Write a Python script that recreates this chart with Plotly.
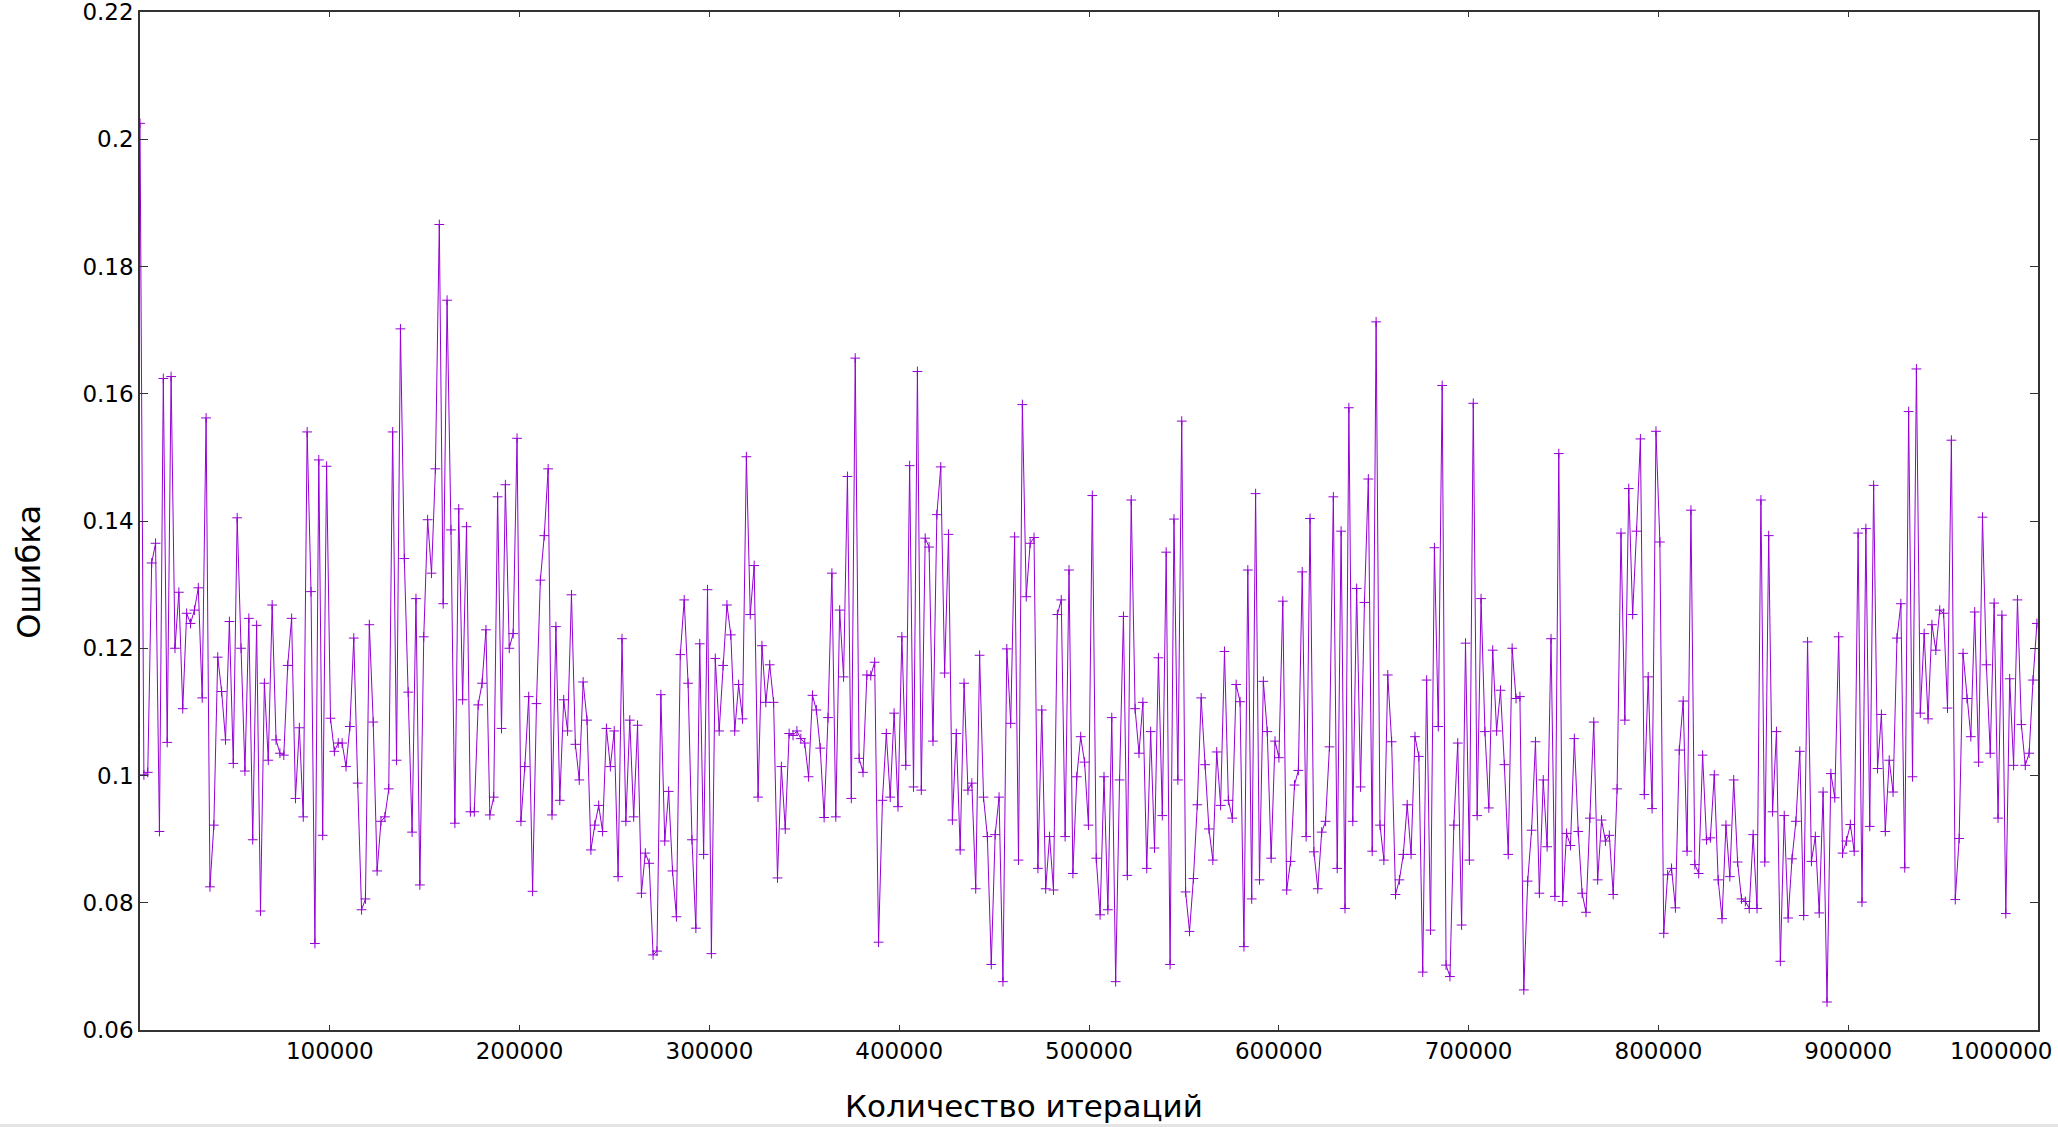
import plotly.graph_objects as go

ITER_STEP = 2048

errors = [
    0.2025, 0.1001, 0.1005, 0.1334, 0.1365, 0.0912, 0.1624, 0.1052, 0.1627, 0.1200,
    0.1288, 0.1105, 0.1255, 0.1239, 0.1260, 0.1295, 0.1122, 0.1562, 0.0825, 0.0922,
    0.1186, 0.1132, 0.1056, 0.1242, 0.1019, 0.1405, 0.1200, 0.1007, 0.1247, 0.0899,
    0.1236, 0.0787, 0.1145, 0.1024, 0.1268, 0.1056, 0.1035, 0.1032, 0.1173, 0.1247,
    0.0964, 0.1075, 0.0935, 0.1540, 0.1289, 0.0736, 0.1496, 0.0906, 0.1486, 0.1090,
    0.1038, 0.1051, 0.1051, 0.1014, 0.1077, 0.1216, 0.0988, 0.0789, 0.0806, 0.1237,
    0.1084, 0.0850, 0.0928, 0.0935, 0.0979, 0.1540, 0.1024, 0.1702, 0.1341, 0.1131,
    0.0911, 0.1278, 0.0828, 0.1218, 0.1402, 0.1318, 0.1482, 0.1866, 0.1270, 0.1747,
    0.1386,
    0.0925, 0.1419, 0.1119, 0.1391, 0.0943, 0.0943, 0.1111, 0.1145, 0.1229, 0.0938,
    0.0966, 0.1438, 0.1074, 0.1457, 0.1200, 0.1223, 0.1530, 0.0928, 0.1014, 0.1124,
    0.0818, 0.1113, 0.1307, 0.1377, 0.1482, 0.0938, 0.1234, 0.0961, 0.1119, 0.1070,
    0.1284, 0.1049, 0.0993, 0.1147, 0.1087, 0.0883, 0.0922, 0.0953, 0.0912, 0.1074,
    0.1014,
    0.1070, 0.0841, 0.1215, 0.0928, 0.1087, 0.0935, 0.1079, 0.0815, 0.0878, 0.0862,
    0.0718, 0.0724, 0.1127, 0.0897, 0.0975, 0.0850, 0.0778, 0.1190, 0.1276, 0.1145,
    0.0899, 0.0760, 0.1207, 0.0876, 0.1292, 0.0720, 0.1184, 0.1070, 0.1173, 0.1268,
    0.1221, 0.1070, 0.1143, 0.1089, 0.1501, 0.1253, 0.1330, 0.0966, 0.1204, 0.1115,
    0.1174,
    0.1115, 0.0839, 0.1014, 0.0916, 0.1066, 0.1063, 0.1070, 0.1058, 0.1051, 0.0998,
    0.1126, 0.1103, 0.1043, 0.0934, 0.1091, 0.1318, 0.0935, 0.1260, 0.1155, 0.1470,
    0.0964, 0.1656, 0.1027, 0.1005, 0.1158, 0.1157, 0.1178, 0.0738, 0.0961, 0.1066,
    0.0966, 0.1098, 0.0951, 0.1218, 0.1016, 0.1487, 0.0982, 0.1635, 0.0977, 0.1373,
    0.1359,
    0.1054, 0.1410, 0.1485, 0.1161, 0.1379, 0.0930, 0.1066, 0.0883, 0.1145, 0.0977,
    0.0988, 0.0822, 0.1189, 0.0966, 0.0904, 0.0703, 0.0907, 0.0966, 0.0676, 0.1199,
    0.1082, 0.1375, 0.0867, 0.1583, 0.1281, 0.1365, 0.1374, 0.0854, 0.1103, 0.0822,
    0.0904, 0.0820, 0.1253, 0.1276, 0.0904, 0.1323, 0.0846, 0.0998, 0.1061, 0.1021,
    0.0922,
    0.1440, 0.0870, 0.0781, 0.0998, 0.0789, 0.1091, 0.0676, 0.0993, 0.1250, 0.0843,
    0.1433, 0.1105, 0.1035, 0.1115, 0.0854, 0.1069, 0.0886, 0.1185, 0.0937, 0.1351,
    0.0703, 0.1403, 0.0993, 0.1557, 0.0817, 0.0755, 0.0838, 0.0954, 0.1122, 0.1017,
    0.0916, 0.0867, 0.1037, 0.0953, 0.1195, 0.0961, 0.0933, 0.1143, 0.1116, 0.0731,
    0.1323,
    0.0806, 0.1443, 0.0836, 0.1148, 0.1069, 0.0870, 0.1054, 0.1028, 0.1274, 0.0820,
    0.0865, 0.0985, 0.1008, 0.1320, 0.0904, 0.1404, 0.0880, 0.0822, 0.0911, 0.0928,
    0.1045, 0.1438, 0.0854, 0.1384, 0.0791, 0.1578, 0.0928, 0.1294, 0.0982, 0.1272,
    0.1466, 0.0881, 0.1713, 0.0922, 0.0867, 0.1158, 0.1053, 0.0813, 0.0836, 0.0876,
    0.0954,
    0.0876, 0.1061, 0.1030, 0.0691, 0.1150, 0.0757, 0.1358, 0.1077, 0.1613, 0.0702,
    0.0684, 0.0922, 0.1051, 0.0765, 0.1208, 0.0867, 0.1585, 0.0937, 0.1278, 0.1069,
    0.0949, 0.1197, 0.1070, 0.1134, 0.1017, 0.0876, 0.1200, 0.1121, 0.1124, 0.0663,
    0.0834, 0.0914, 0.1053, 0.0815, 0.0993, 0.0888, 0.1215, 0.0810, 0.1506, 0.0802,
    0.0909, 0.0890, 0.1058, 0.0912, 0.0815, 0.0785, 0.0933, 0.1084, 0.0836, 0.0930,
    0.0897, 0.0906, 0.0813, 0.0979, 0.1381, 0.1087, 0.1451, 0.1253, 0.1384, 0.1529,
    0.0970, 0.1155, 0.0948, 0.1541, 0.1367, 0.0752, 0.0844, 0.0854, 0.0792, 0.1040,
    0.1117, 0.0881, 0.1417, 0.0860, 0.0846, 0.1032, 0.0899, 0.0902, 0.1001, 0.0836,
    0.0775,
    0.0922, 0.0841, 0.0993, 0.0864, 0.0806, 0.0802, 0.0791, 0.0907, 0.0791, 0.1433,
    0.0864, 0.1377, 0.0943, 0.1069, 0.0708, 0.0937, 0.0776, 0.0869, 0.0928, 0.1038,
    0.0780, 0.1210, 0.0865, 0.0904, 0.0784, 0.0974, 0.0644, 0.1003, 0.0965, 0.1218,
    0.0878, 0.0897, 0.0923, 0.0881, 0.1381, 0.0801, 0.1388, 0.0920, 0.1456, 0.1011,
    0.1096,
    0.0912, 0.1024, 0.0974, 0.1216, 0.1270, 0.0855, 0.1572, 0.0998, 0.1639, 0.1098,
    0.1223, 0.1089, 0.1237, 0.1197, 0.1260, 0.1255, 0.1106, 0.1527, 0.0805, 0.0901,
    0.1192, 0.1121, 0.1061, 0.1257, 0.1021, 0.1406, 0.1174, 0.1035, 0.1271, 0.0933,
    0.1252, 0.0783, 0.1152, 0.1016, 0.1276, 0.1080, 0.1016, 0.1035, 0.1150, 0.1239,
]

iterations = [i * ITER_STEP for i in range(len(errors))]

x_tick_vals = [100000, 200000, 300000, 400000, 500000, 600000, 700000, 800000, 900000, 1000000]
x_tick_text = ["100000", "200000", "300000", "400000", "500000", "600000", "700000", "800000", "900000", "1000000"]
y_tick_vals = [0.06, 0.08, 0.10, 0.12, 0.14, 0.16, 0.18, 0.20, 0.22]
y_tick_text = ["0.06", "0.08", "0.1", "0.12", "0.14", "0.16", "0.18", "0.2", "0.22"]

x_title = "Количество итераций"
y_title = "Ошибка"

LINE_COLOR = "#9400d3"
FONT = "DejaVu Sans"
TICK_SIZE = 23

fig = go.Figure()
fig.add_trace(go.Scatter(
    x=iterations, y=errors, mode="lines+markers",
    line=dict(color=LINE_COLOR, width=1),
    marker=dict(symbol="cross-thin", size=7, line=dict(color=LINE_COLOR, width=1), color=LINE_COLOR),
    showlegend=False, hoverinfo="x+y",
))

axis_common = dict(
    showline=True, linecolor="#333333", linewidth=1.5, mirror="ticks",
    ticks="inside", tickcolor="#333333", showgrid=False, zeroline=False,
    automargin=False, ticklabeloverflow="allow",
    tickfont=dict(family=FONT, size=TICK_SIZE, color="#000000"),
)

# last x label is drawn separately (shifted left so it fits inside the page)
x_text_axis = x_tick_text[:-1] + [""]
fig.update_xaxes(range=[0, 1000000], tickvals=x_tick_vals, ticktext=x_text_axis,
                 ticklen=5, **axis_common)
fig.update_yaxes(range=[0.06, 0.22], tickvals=y_tick_vals, ticktext=y_tick_text,
                 ticklen=8, **axis_common)

fig.add_annotation(text=x_tick_text[-1], x=x_tick_vals[-1], xref="x", y=0, yref="paper",
                   xanchor="right", yanchor="top", xshift=16, yshift=-6, showarrow=False,
                   font=dict(family=FONT, size=TICK_SIZE, color="#000000"))

fig.add_annotation(text=x_title, xref="paper", yref="paper", x=0.4657, y=-0.075,
                   xanchor="center", yanchor="middle", showarrow=False,
                   font=dict(family=FONT, size=31, color="#000000"))
fig.add_annotation(text=y_title, xref="paper", yref="paper", x=-0.0585, y=0.45,
                   xanchor="center", yanchor="middle", showarrow=False, textangle=-90,
                   font=dict(family=FONT, size=32, color="#000000"))

fig.add_shape(type="rect", xref="paper", yref="paper", x0=-0.08, x1=1.02,
              y0=-0.0953, y1=-0.0923, line=dict(width=0), fillcolor="#e4e4e4", layer="below")

fig.update_layout(
    width=2058, height=1127,
    margin=dict(l=140, r=20, t=12, b=97),
    paper_bgcolor="#ffffff", plot_bgcolor="#ffffff",
)

fig.write_html("out.html", config={"displayModeBar": False},
               post_script="document.body.style.margin='0';document.body.style.overflow='hidden';")
